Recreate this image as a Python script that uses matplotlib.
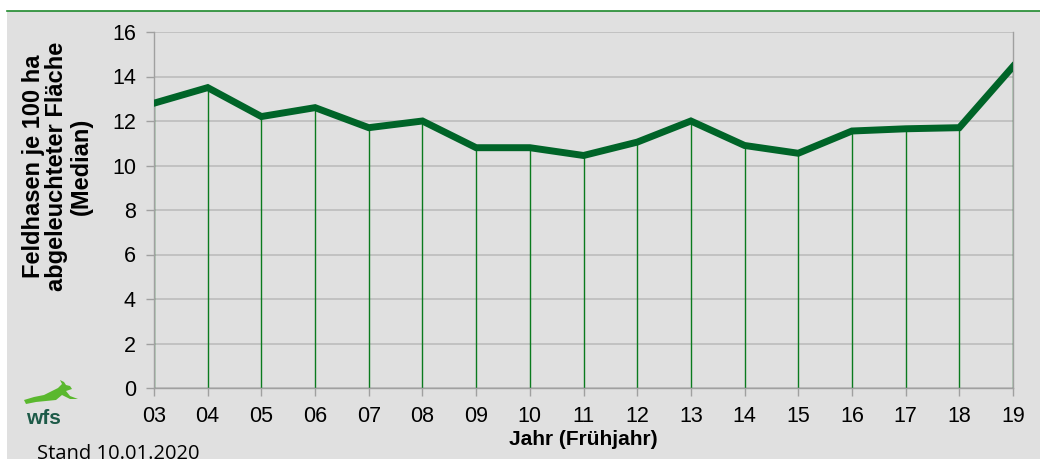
import numpy as np
import matplotlib.pyplot as plt
from matplotlib.patches import Polygon

# Jahre (Frühjahr) und Median Feldhasen je 100 ha
years = ["03", "04", "05", "06", "07", "08", "09", "10", "11", "12",
         "13", "14", "15", "16", "17", "18", "19"]
hares = [12.8, 13.5, 12.2, 12.6, 11.7, 12.0, 10.8, 10.8, 10.45, 11.05,
         12.0, 10.9, 10.55, 11.55, 11.65, 11.7, 14.45]
y_ticks = [0, 2, 4, 6, 8, 10, 12, 14, 16]

bg = "#e0e0e0"
dark_green = "#006428"
line_green = "#0a7a1e"
grid_gray = "#bdbdbd"

plt.rcParams["font.family"] = ["Liberation Sans", "DejaVu Sans"]

fig = plt.figure(figsize=(10.4, 4.59), dpi=100)
fig.patch.set_facecolor("white")

# grey panel with green line on top
bgax = fig.add_axes([7 / 1040, 0, 1 - 7 / 1040, 1 - 11 / 459], zorder=-1)
bgax.set_facecolor(bg)
bgax.set_xticks([])
bgax.set_yticks([])
for s in bgax.spines.values():
    s.set_visible(False)
bgax.spines["top"].set_visible(True)
bgax.spines["top"].set_color("#1f8a2e")
bgax.spines["top"].set_linewidth(1.2)

ax = fig.add_axes([154 / 1040, 1 - 388 / 459, (1013 - 154) / 1040, (388 - 32) / 459])
ax.set_facecolor(bg)
x = np.arange(len(years))

# drop lines
ax.vlines(x, 0, hares, colors=line_green, lw=1.0, zorder=2)
ax.plot(x, hares, color=dark_green, lw=5, solid_joinstyle="miter", zorder=3)

ax.set_xlim(0, len(years) - 1)
ax.set_ylim(0, 16)
ax.set_yticks(y_ticks)
ax.set_xticks(x)
ax.set_xticklabels(years)
ax.yaxis.grid(True, color=grid_gray, lw=1.2)
ax.set_axisbelow(True)
for s in ["left", "bottom", "right"]:
    ax.spines[s].set_color("#a0a0a0")
    ax.spines[s].set_linewidth(1.0)
ax.spines["top"].set_visible(False)
ax.tick_params(axis="both", labelsize=15.5, color="#a0a0a0", length=6, width=1, pad=7)

ax.set_xlabel("Jahr (Frühjahr)", fontsize=15, fontweight="bold", labelpad=2)
fig.text(57 / 1040, 1 - 166 / 459, "Feldhasen je 100 ha\nabgeleuchteter Fläche\n(Median)",
         rotation=90, ha="center", va="center", fontsize=17, fontweight="bold",
         linespacing=1.05)

# wfs logo: hare silhouette + letters
hare_px = np.array([[24, 400], [34, 397], [44, 395], [52, 391], [58, 388], [62, 384],
                    [60, 380], [64, 382], [66, 385], [70, 386], [72, 389], [66, 391],
                    [70, 396], [78, 399], [70, 399], [62, 395], [56, 400], [46, 401],
                    [36, 402], [26, 404]])
verts = np.column_stack([hare_px[:, 0] / 1040, 1 - hare_px[:, 1] / 459])
fig.patches.append(Polygon(verts, closed=True, transform=fig.transFigure,
                           facecolor="#5ab82e", edgecolor="none"))
fig.text(43 / 1040, 1 - 419 / 459, "wfs", fontsize=15, fontweight="bold",
         color="#1d5a48", ha="center", va="center")
fig.text(37 / 1040, 1 - 444 / 459, "Stand 10.01.2020", fontsize=14.5, ha="left", va="top",
         family="Open Sans")

fig.savefig("out.png", dpi=100, facecolor=fig.get_facecolor())
